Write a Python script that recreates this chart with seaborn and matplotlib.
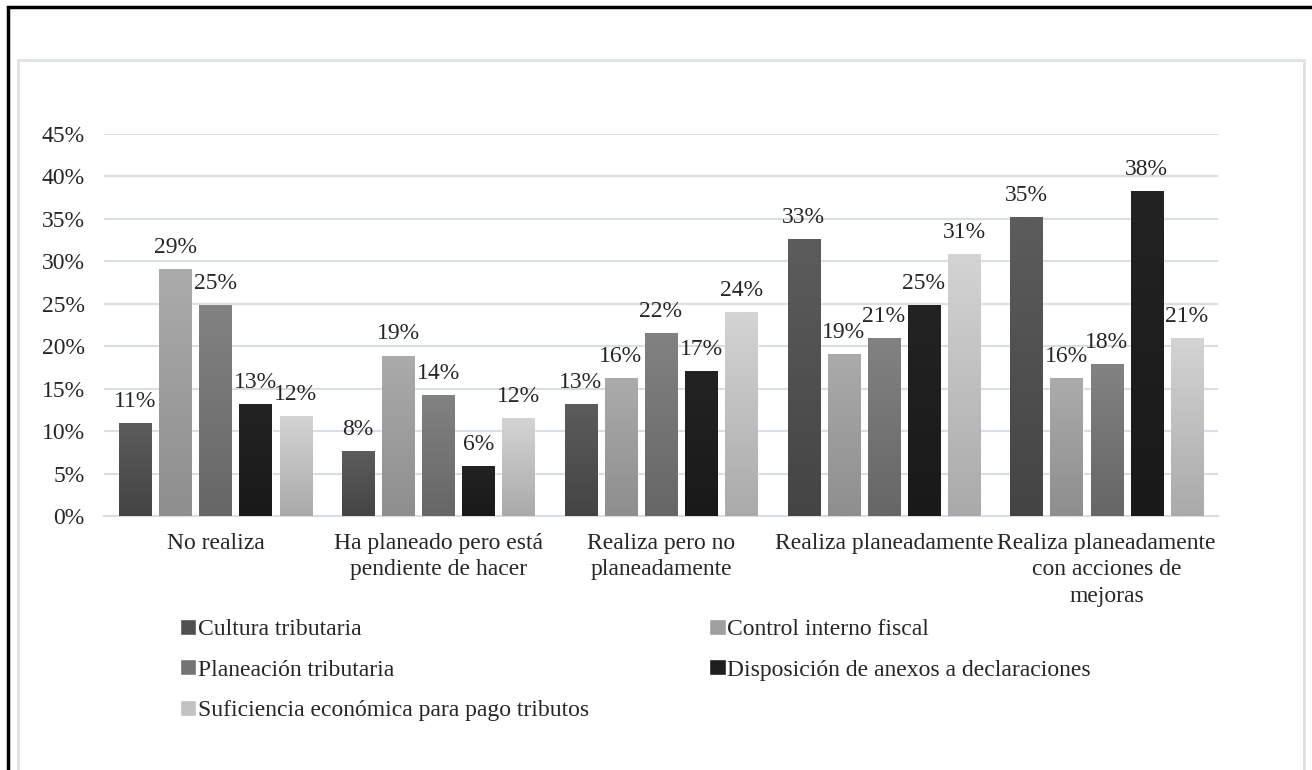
import numpy as np
import pandas as pd
import matplotlib
matplotlib.use("Agg")
import matplotlib.pyplot as plt
import seaborn as sns
from matplotlib.colors import to_rgb
from matplotlib.patches import Rectangle

categorias = [
    "No realiza",
    "Ha planeado pero está\npendiente de hacer",
    "Realiza pero no\nplaneadamente",
    "Realiza planeadamente",
    "Realiza planeadamente\ncon acciones de\nmejoras",
]
series = [
    "Cultura tributaria",
    "Control interno fiscal",
    "Planeación tributaria",
    "Disposición de anexos a declaraciones",
    "Suficiencia económica para pago tributos",
]
cultura = [10.9, 7.6, 13.2, 32.6, 35.2]
control = [29.1, 18.9, 16.2, 19.1, 16.2]
planeacion = [24.9, 14.2, 21.6, 21.0, 17.9]
disposicion = [13.2, 5.9, 17.1, 24.9, 38.3]
suficiencia = [11.8, 11.5, 24.0, 30.9, 21.0]
y_ticks = [0, 5, 10, 15, 20, 25, 30, 35, 40, 45]

valores = [cultura, control, planeacion, disposicion, suficiencia]
df = pd.DataFrame({
    "categoria": np.repeat(categorias, len(series)),
    "serie": series * len(categorias),
    "valor": [valores[j][i] for i in range(len(categorias)) for j in range(len(series))],
})

colores = ["#505050", "#9f9f9f", "#747474", "#1e1e1e", "#c2c2c2"]
arriba = ["#5c5c5c", "#ababab", "#828282", "#232323", "#d4d4d4"]
abajo = ["#444444", "#8e8e8e", "#666666", "#191919", "#aaaaaa"]

sns.set_style("white")
plt.rcParams["font.family"] = ["Liberation Serif", "DejaVu Serif"]
plt.rcParams["font.size"] = 17

fig = plt.figure(figsize=(13.12, 7.7), dpi=100)
ax = fig.add_axes([104 / 1312, 1 - 516 / 770, (1218 - 104) / 1312, (516 - 134) / 770])

sns.barplot(data=df, x="categoria", y="valor", hue="serie", order=categorias,
            hue_order=series, palette=colores, width=0.9, gap=0.2,
            saturation=1, ax=ax, zorder=3)

ax.set_ylim(0, 45)
xlim = ax.get_xlim()

# degradado vertical en cada barra
for k, cont in enumerate(ax.containers):
    c_top = np.array(to_rgb(arriba[k]))
    c_bot = np.array(to_rgb(abajo[k]))
    t = np.linspace(0, 1, 64)[:, None]
    grad = (c_top * (1 - t) + c_bot * t)[:, None, :]
    for p in cont:
        x0, w, h = p.get_x(), p.get_width(), p.get_height()
        im = ax.imshow(grad, extent=[x0, x0 + w, 0, h], aspect="auto",
                       origin="upper", zorder=4, interpolation="bilinear")
        im.set_clip_path(p)

ax.set_xlim(xlim)
ax.set_ylim(0, 45)
ax.set_aspect("auto")

for k, cont in enumerate(ax.containers):
    etiquetas = [f"{round(v):d}%" for v in valores[k]]
    ax.bar_label(cont, labels=etiquetas, padding=8, fontsize=17, zorder=5)

ax.set_yticks(y_ticks)
ax.set_yticklabels([f"{v}%" for v in y_ticks])
ax.set_xticks(range(len(categorias)))
ax.set_xticklabels(categorias, linespacing=1.34)
ax.tick_params(axis="y", length=0, pad=14, labelsize=17)
ax.tick_params(axis="x", length=0, pad=12, labelsize=17)
ax.set_xlabel("")
ax.set_ylabel("")
ax.grid(axis="y", color="#d9dde6", linewidth=1.5, zorder=0)
ax.set_axisbelow(True)
for s in ["top", "right", "left"]:
    ax.spines[s].set_visible(False)
ax.spines["bottom"].set_color("#d9dde6")
ax.spines["bottom"].set_linewidth(1.5)

handles, labels = ax.get_legend_handles_labels()
ax.get_legend().remove()
orden = [0, 2, 4, 1, 3]
fig.legend([handles[i] for i in orden], [labels[i] for i in orden],
           loc="upper left", bbox_to_anchor=(180 / 1312, 1 - 619 / 770),
           ncol=2, frameon=False, fontsize=17, handlelength=0.68,
           handleheight=0.68, handletextpad=0.08, labelspacing=0.8,
           columnspacing=5.1, borderaxespad=0, borderpad=0)

# marcos
fig.add_artist(Rectangle((17.5 / 1312, -0.1), (1304 - 17.5) / 1312, 1 - 60 / 770 + 0.1,
                         transform=fig.transFigure, fill=False,
                         edgecolor="#dde1ea", linewidth=2))
fig.add_artist(Rectangle((8 / 1312, -0.1), 1.2, 1 - 7 / 770 + 0.1,
                         transform=fig.transFigure, fill=False,
                         edgecolor="black", linewidth=2.5))

fig.savefig("out.png", dpi=100)
